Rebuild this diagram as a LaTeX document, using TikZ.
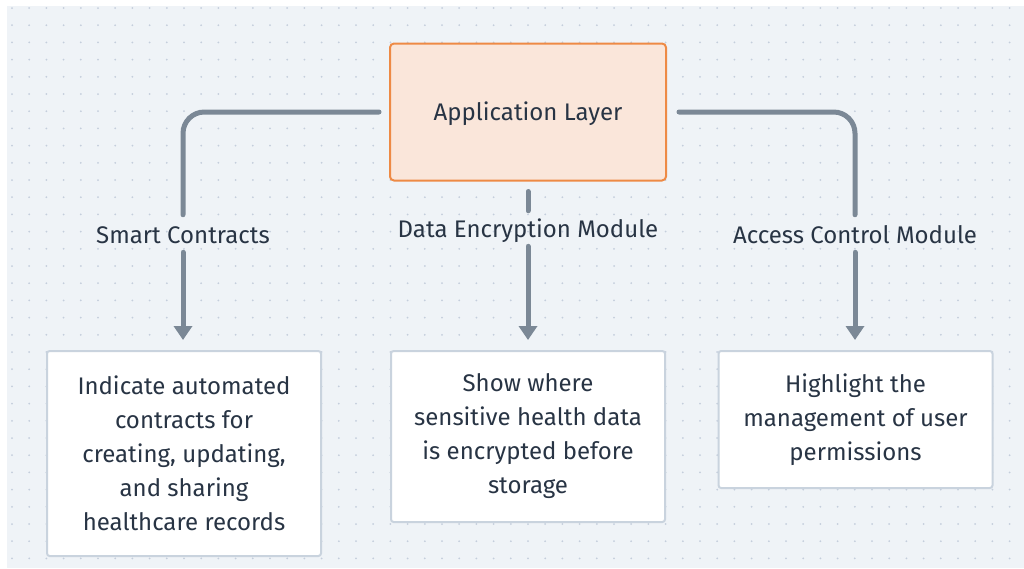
\documentclass[tikz,border=0pt]{standalone}
\usepackage{fontspec}
\setmainfont{Fira Sans}
\usetikzlibrary{positioning,arrows.meta}
\definecolor{PageBg}{RGB}{239,243,247}
\definecolor{DotGray}{RGB}{196,206,220}
\definecolor{Ink}{RGB}{40,52,68}
\definecolor{Wire}{RGB}{123,136,150}
\definecolor{AppFill}{RGB}{250,230,218}
\definecolor{AppEdge}{RGB}{238,138,69}
\definecolor{BoxEdge}{RGB}{201,211,222}

\begin{document}
\begin{tikzpicture}[x=0.75pt,y=-0.75pt,
    every node/.style={text=Ink,font=\fontsize{18}{25.5}\selectfont},
    layer/.style={draw=AppEdge,fill=AppFill,line width=1.5pt,rounded corners=3pt,
      minimum width=207pt,minimum height=102.75pt,text height=13.5pt,text depth=1.5pt},
    infobox/.style={draw=BoxEdge,fill=white,line width=1.5pt,rounded corners=2pt,
      minimum width=205.5pt,align=center,anchor=north},
    tag/.style={inner sep=0pt,text height=13.5pt,text depth=3.5pt},
    wire/.style={draw=Wire,line width=3.75pt,line cap=round,rounded corners=16pt},
    tip/.style={-{Triangle[width=13.5pt,length=10.5pt]}}]
  \useasboundingbox (0,0) rectangle (1024,568);
  \fill[PageBg] (7,6) rectangle (1024,568);
  % dotted grid
  \foreach \i in {0,...,58}
    \foreach \j in {0,...,32}
      \fill[DotGray] (12+\i*17.2,8+\j*17.2) circle (0.75pt);

  \node[layer] (app) at (528,112) {Application Layer};

  \node[tag] (smart) at (183,237) {Smart Contracts};
  \node[tag] (crypt) at (528,231) {Data Encryption Module};
  \node[tag] (access) at (855,237) {Access Control Module};

  \node[infobox,minimum height=153.75pt] (contracts) at (184,350)
    {Indicate automated\\contracts for\\creating, updating,\\and sharing\\healthcare records};
  \node[infobox,minimum height=128.25pt] (storage) at (528,350)
    {Show where\\sensitive health data\\is encrypted before\\storage};
  \node[infobox,minimum height=102.75pt] (perms) at (855.5,350)
    {Highlight the\\management of user\\permissions};

  % connectors, broken at the labels
  \draw[wire,shorten <=7.5pt,shorten >=8pt] (app.west) -| (smart.north);
  \draw[wire,tip,shorten <=2.8pt,shorten >=7.5pt] (smart.south) -- (smart.south |- contracts.north);
  \draw[wire,shorten <=7.5pt,shorten >=6.5pt] (app.south) -- (crypt.north);
  \draw[wire,tip,shorten <=2.8pt,shorten >=7.5pt] (crypt.south) -- (storage.north);
  \draw[wire,shorten <=9pt,shorten >=8pt] (app.east) -| (access.north);
  \draw[wire,tip,shorten <=2.8pt,shorten >=7.5pt] (access.south) -- (access.south |- perms.north);
\end{tikzpicture}
\end{document}
